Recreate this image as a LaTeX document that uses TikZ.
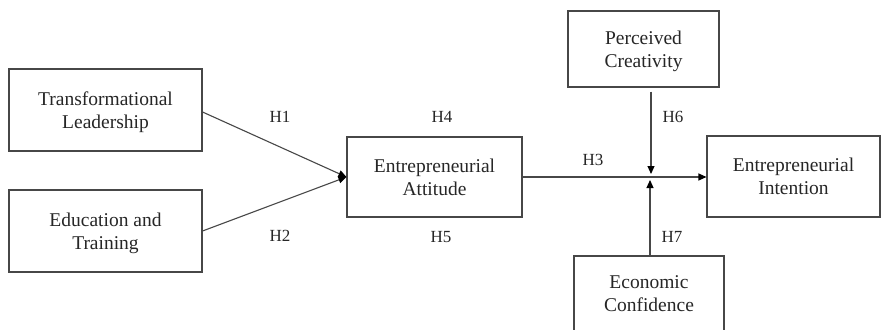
\documentclass[tikz,border=0pt]{standalone}
\usepackage{fontspec}
\setmainfont{Liberation Serif}
\usetikzlibrary{arrows.meta}
\definecolor{ink}{HTML}{262626}
\definecolor{edge}{HTML}{474747}
\tikzset{
  box/.style={draw=edge, line width=1.1pt, rectangle, align=center, text=ink,
    font=\fontsize{19.5}{23}\selectfont, inner sep=0pt},
  boxtext/.style={text=ink, font=\fontsize{19.5}{23}\selectfont, align=center, inner sep=0pt},
  hyp/.style={text=ink, font=\fontsize{17}{20}\selectfont, inner sep=0pt},
  arr/.style={draw=edge, line width=1.1pt, -{Triangle[length=8pt,width=7pt,color=black]}}
}
\begin{document}
\begin{tikzpicture}[x=1pt,y=-1pt]
\clip (0,0) rectangle (882,329);
\useasboundingbox (0,0) rectangle (882,329);
\fill[white] (0,0) rectangle (882,329);
\node[box, minimum width=193pt, minimum height=82pt] (TL) at (105.5,110) {};
\node[boxtext] (TLt) at (105.5,112.5) {Transformational\\Leadership};
\node[box, minimum width=193pt, minimum height=82pt] (ET) at (105.5,231) {};
\node[boxtext] (ETt) at (105.5,233.5) {Education and\\Training};
\node[box, minimum width=175pt, minimum height=80pt] (EA) at (434.5,177) {Entrepreneurial\\Attitude};
\node[box, minimum width=151pt, minimum height=76pt] (PC) at (643.5,49) {};
\node[boxtext] (PCt) at (643.5,51) {Perceived\\Creativity};
\node[box, minimum width=173pt, minimum height=81pt] (EI) at (793.5,176.5) {Entrepreneurial\\Intention};
\node[box, minimum width=150pt, minimum height=84pt] (EC) at (649,298) {};
\node[boxtext] (ECt) at (649,294) {Economic\\Confidence};
\coordinate (m) at (651,177);
\draw[arr] (TL.east |- 0,112) -- (EA.west |- 0,177);
\draw[arr] (ET.east |- 0,231) -- (EA.west |- 0,177);
\draw[arr] (EA.east |- m) -- (EI.west |- m);
\draw[arr] (PC.south -| m) ++(0,4) -- ([yshift=3pt]m);
\draw[arr] (EC.north -| 650,0) -- ([xshift=-1pt,yshift=-3pt]m);
\node[hyp] (H1) at (280,117) {H1};
\node[hyp] (H2) at (280,236) {H2};
\node[hyp] (H4) at (442,117) {H4};
\node[hyp] (H5) at (441,237) {H5};
\node[hyp] (H3) at (593,160) {H3};
\node[hyp] (H6) at (673,117) {H6};
\node[hyp] (H7) at (672,237) {H7};
\end{tikzpicture}
\end{document}
